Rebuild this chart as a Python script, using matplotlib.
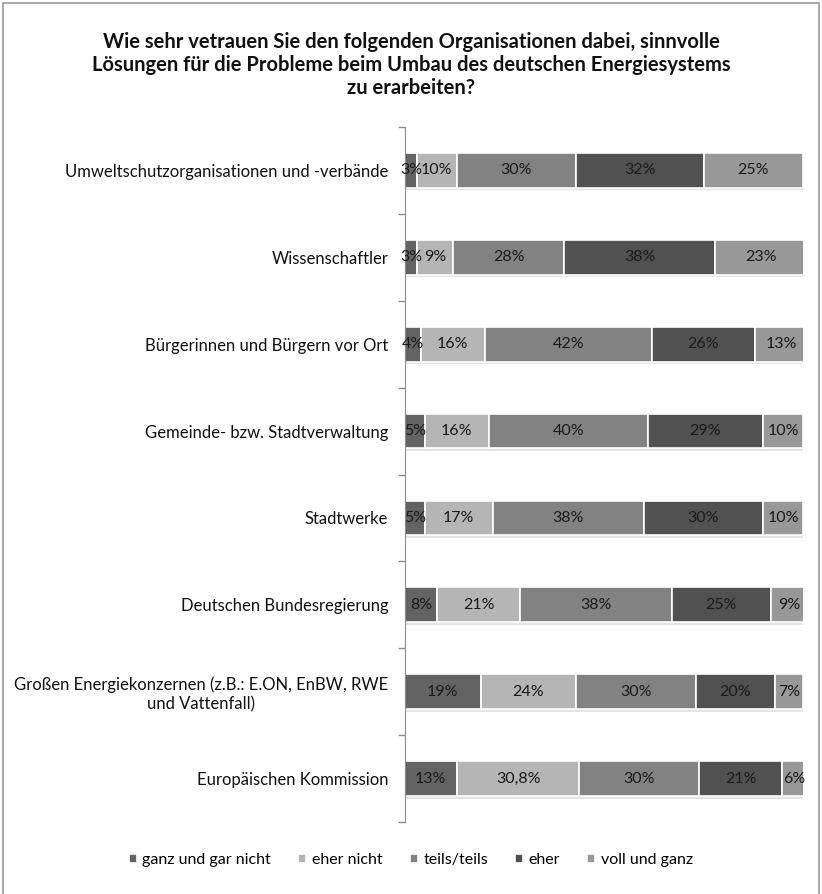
import matplotlib.pyplot as plt
from matplotlib.patches import Rectangle
import numpy as np

plt.rcParams['font.family'] = ['Lato', 'DejaVu Sans']

# Data (percent)
categories = [
    'Umweltschutzorganisationen und -verbände',
    'Wissenschaftler',
    'Bürgerinnen und Bürgern vor Ort',
    'Gemeinde- bzw. Stadtverwaltung',
    'Stadtwerke',
    'Deutschen Bundesregierung',
    'Großen Energiekonzernen (z.B.: E.ON, EnBW, RWE\nund Vattenfall)',
    'Europäischen Kommission',
]
series = ['ganz und gar nicht', 'eher nicht', 'teils/teils', 'eher', 'voll und ganz']
values = {
    'ganz und gar nicht': [3, 3, 4, 5, 5, 8, 19, 13],
    'eher nicht':         [10, 9, 16, 16, 17, 21, 24, 30.8],
    'teils/teils':        [30, 28, 42, 40, 38, 38, 30, 30],
    'eher':               [32, 38, 26, 29, 30, 25, 20, 21],
    'voll und ganz':      [25, 23, 13, 10, 10, 9, 7, 6],
}
colors = ['#636363', '#b5b5b5', '#828282', '#515151', '#989898']

fig = plt.figure(figsize=(8.22, 8.94), dpi=100)
ax = fig.add_axes([405 / 822, 1 - 822 / 894, 398 / 822, 695 / 894])

y = np.arange(len(categories))
left = np.zeros(len(categories))
for name, col in zip(series, colors):
    vals = np.array(values[name], dtype=float)
    # soft shadow below each bar
    ax.barh(y + 0.03, vals, left=left, height=0.40, color='#e4e4e4', zorder=1)
    ax.barh(y, vals, left=left, height=0.40, color=col, edgecolor='white',
            linewidth=1.2, label=name, zorder=2)
    for yi, l, v in zip(y, left, vals):
        txt = (('%.1f' % v).replace('.', ',') if v % 1 else '%d' % v) + '%'
        ax.text(l + v / 2, yi, txt, ha='center', va='center', fontsize=11.5,
                color='#1a1a1a', zorder=3)
    left += vals

ax.set_xlim(0, 100)
ax.set_ylim(len(categories) - 0.5, -0.5)
ax.set_xticks([])
ax.set_yticks(y)
ax.set_yticklabels(categories, fontsize=12, color='#111111',
                   multialignment='center')
ax.tick_params(axis='y', which='major', length=0, pad=12)
ax.set_yticks(np.arange(len(categories) + 1) - 0.5, minor=True)
ax.tick_params(axis='y', which='minor', length=5, color='#8c8c8c', width=1)
for s in ['top', 'right', 'bottom']:
    ax.spines[s].set_visible(False)
ax.spines['left'].set_color('#8c8c8c')

fig.text(0.5, 1 - 65 / 894,
         'Wie sehr vetrauen Sie den folgenden Organisationen dabei, sinnvolle\n'
         'Lösungen für die Probleme beim Umbau des deutschen Energiesystems\n'
         'zu erarbeiten?',
         ha='center', va='center', fontsize=14.5, fontweight='bold',
         linespacing=1.2, color='#111111')

fig.legend(loc='center', bbox_to_anchor=(0.5, 1 - 860 / 894), ncol=5,
           frameon=False, fontsize=11.5, handlelength=0.5, handleheight=0.5,
           columnspacing=1.7, handletextpad=0.35)

# outer chart frame
fig.patches.append(Rectangle((3 / 822, -0.01), 816 / 822, 1 - 3 / 894 + 0.01,
                             transform=fig.transFigure, fill=False,
                             edgecolor='#9a9a9a', linewidth=1.2))

fig.savefig('out.png', dpi=100)
